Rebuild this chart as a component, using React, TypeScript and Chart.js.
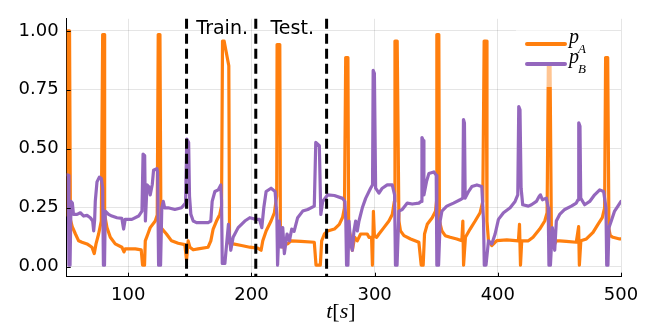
import React, { useEffect, useRef } from "react";
import { Chart, registerables } from "chart.js";

Chart.register(...registerables);

const tA = [50, 50.8, 52.3, 53.0, 54.5, 57.0, 59.7, 62.4, 66.5, 70.5, 72.4, 73.8, 75.9, 78.1, 79.2, 80.5, 80.8, 82.7, 85.4, 89.4, 94.8, 96.5, 97.5, 105.7, 110.5, 111.6, 113.2, 113.8, 115.9, 117.8, 121.9, 123.5, 124.3, 125.7, 126.5, 131, 135.1, 140.5, 145.9, 147.3, 148.6, 150, 152.7, 156.7, 164.8, 167, 168.9, 171.6, 174.3, 175.7, 176.5, 177.8, 181.6, 182.2, 185.1, 191.9, 198.6, 205.1, 207.8, 209.2, 211.9, 215.9, 218.6, 220.5, 220.8, 223.0, 223.5, 225.4, 227, 229.4, 232.1, 240.2, 251, 252.4, 255.9, 257, 259.2, 261.9, 267.3, 271.3, 274, 275.5, 276.5, 278.3, 278.9, 280.5, 281.9, 283.8, 285.9, 288.6, 294, 295.4, 297.5, 298.2, 299.0, 299.8, 301.6, 303.5, 307.5, 311.6, 314.3, 316.0, 316.5, 318.3, 319.7, 321, 323.8, 329.2, 335.9, 337.8, 339.4, 340.5, 342.7, 346.7, 349.4, 350.3, 350.5, 352.1, 352.6, 354.6, 357.3, 361.3, 366.7, 370.8, 371.6, 372.2, 373.7, 377.5, 381.6, 385.6, 387.8, 388.9, 390.5, 391.2, 392.4, 395.1, 399.2, 407.3, 416.7, 417.6, 418.4, 419.4, 424.8, 428.6, 434, 438.1, 440, 441, 442.4, 443.5, 444.8, 447.5, 450.2, 455.6, 463.7, 465.6, 466.2, 467.4, 471.9, 477.3, 481.3, 484.8, 486.7, 487.5, 489.2, 490.2, 491.3, 493.5, 498.9, 500];
const pA = [0.22, 1.0, 1.0, 0.2, 0.17, 0.14, 0.11, 0.104, 0.097, 0.083, 0.056, 0.097, 0.139, 0.194, 0.984, 0.984, 0.22, 0.166, 0.125, 0.097, 0.083, 0.063, 0.076, 0.076, 0.072, 0.007, 0.007, 0.11, 0.139, 0.166, 0.194, 0.22, 0.984, 0.984, 0.166, 0.139, 0.11, 0.1, 0.094, 0.028, 0.11, 0.083, 0.072, 0.076, 0.083, 0.11, 0.16, 0.194, 0.222, 0.257, 0.957, 0.957, 0.852, 0.1, 0.097, 0.09, 0.083, 0.079, 0.07, 0.11, 0.152, 0.194, 0.229, 0.3, 0.942, 0.942, 0.139, 0.083, 0.1, 0.097, 0.11, 0.108, 0.104, 0.007, 0.007, 0.11, 0.139, 0.152, 0.16, 0.18, 0.21, 0.25, 0.887, 0.887, 0.166, 0.125, 0.07, 0.125, 0.11, 0.139, 0.139, 0.125, 0.125, 0.007, 0.235, 0.13, 0.125, 0.139, 0.166, 0.194, 0.222, 0.277, 0.957, 0.957, 0.194, 0.152, 0.132, 0.118, 0.104, 0.007, 0.007, 0.139, 0.18, 0.208, 0.236, 0.28, 0.984, 0.984, 0.194, 0.152, 0.132, 0.125, 0.118, 0.11, 0.194, 0.007, 0.125, 0.16, 0.194, 0.229, 0.277, 0.957, 0.957, 0.194, 0.111, 0.09, 0.111, 0.114, 0.11, 0.18, 0.007, 0.11, 0.11, 0.125, 0.16, 0.194, 0.229, 0.85, 0.85, 0.139, 0.083, 0.11, 0.11, 0.108, 0.104, 0.17, 0.007, 0.11, 0.118, 0.146, 0.18, 0.208, 0.25, 0.887, 0.887, 0.16, 0.132, 0.125, 0.118, 0.118];

const tB = [50, 51.3, 51.8, 52.7, 53.5, 54.6, 55.5, 58.4, 61.1, 63.8, 66.5, 69.2, 71.1, 71.9, 72.7, 73.2, 74.6, 76.5, 78.1, 79.2, 79.8, 80.7, 81.3, 84, 86.7, 90.8, 94.8, 96.2, 97.5, 102.9, 108.4, 111.1, 112.0, 113.3, 113.9, 115.2, 116.5, 117.8, 119.5, 120.5, 123.2, 123.8, 124.6, 126.2, 127.2, 128.4, 129.5, 132.4, 137.8, 143.2, 146.5, 147.5, 149.0, 149.7, 150.8, 152.7, 155.4, 164.8, 167, 168.1, 170.3, 173, 175.1, 175.7, 176.3, 178.4, 181.3, 183.2, 185.1, 189.2, 194.6, 198.6, 203.8, 206.5, 208.4, 210, 211.9, 215.9, 219.2, 220.6, 221.2, 222.6, 224, 225.4, 226.7, 228.9, 230.8, 232.7, 234.6, 237.5, 241.6, 245.7, 251, 252.2, 255.1, 256.3, 257.8, 261.9, 267.3, 274, 275.8, 276.6, 277.2, 278.3, 279.2, 280.5, 281.9, 283.2, 284.6, 285.9, 287.3, 290, 292.7, 296.7, 298.3, 298.8, 299.8, 300.8, 303.5, 306.2, 310.2, 314.3, 316.2, 316.9, 318.2, 319.7, 322.4, 326.5, 330.5, 335.9, 337.8, 338.4, 339.5, 340.0, 342.1, 344, 348.1, 350, 350.5, 351.9, 353.2, 354.6, 358.6, 364, 369.4, 371.6, 372.1, 372.9, 373.5, 376.2, 378.9, 383, 387, 388.4, 389.0, 390.4, 392.4, 395.1, 397.8, 400.5, 404.6, 410, 414, 416.2, 417.0, 418.0, 418.9, 420.2, 424.8, 427.3, 431.3, 433.5, 434.6, 436.2, 439.4, 440.9, 441.5, 442.7, 444.3, 446.2, 447.5, 450.2, 454.3, 459.7, 463.7, 465.1, 465.7, 466.7, 467.3, 470.5, 474.6, 478.6, 482.7, 485.9, 487.8, 488.4, 489.4, 490.2, 492.1, 494.8, 497.5, 500];
const pB = [0.39, 0.388, 0.007, 0.007, 0.277, 0.27, 0.222, 0.222, 0.229, 0.215, 0.218, 0.208, 0.194, 0.152, 0.2, 0.277, 0.36, 0.38, 0.374, 0.333, 0.007, 0.007, 0.236, 0.222, 0.215, 0.208, 0.205, 0.16, 0.201, 0.201, 0.215, 0.236, 0.478, 0.471, 0.194, 0.347, 0.34, 0.305, 0.35, 0.409, 0.416, 0.402, 0.007, 0.007, 0.25, 0.277, 0.25, 0.25, 0.243, 0.25, 0.27, 0.541, 0.527, 0.3, 0.222, 0.194, 0.187, 0.187, 0.194, 0.277, 0.319, 0.326, 0.347, 0.28, 0.014, 0.014, 0.18, 0.07, 0.125, 0.166, 0.194, 0.208, 0.201, 0.201, 0.166, 0.25, 0.319, 0.333, 0.319, 0.222, 0.007, 0.194, 0.083, 0.166, 0.056, 0.139, 0.11, 0.16, 0.15, 0.208, 0.236, 0.243, 0.257, 0.527, 0.513, 0.222, 0.277, 0.305, 0.302, 0.29, 0.277, 0.194, 0.007, 0.007, 0.194, 0.097, 0.07, 0.152, 0.194, 0.152, 0.194, 0.25, 0.29, 0.333, 0.347, 0.832, 0.82, 0.333, 0.312, 0.333, 0.347, 0.347, 0.305, 0.007, 0.007, 0.236, 0.243, 0.27, 0.266, 0.27, 0.277, 0.548, 0.535, 0.305, 0.361, 0.395, 0.402, 0.388, 0.007, 0.007, 0.194, 0.236, 0.257, 0.27, 0.284, 0.291, 0.624, 0.61, 0.291, 0.319, 0.34, 0.347, 0.34, 0.194, 0.007, 0.007, 0.11, 0.097, 0.139, 0.201, 0.229, 0.25, 0.277, 0.305, 0.679, 0.665, 0.333, 0.263, 0.257, 0.263, 0.277, 0.298, 0.305, 0.284, 0.291, 0.25, 0.007, 0.007, 0.166, 0.07, 0.194, 0.222, 0.243, 0.257, 0.27, 0.284, 0.61, 0.595, 0.291, 0.263, 0.277, 0.305, 0.326, 0.319, 0.25, 0.007, 0.007, 0.166, 0.194, 0.236, 0.257, 0.277];

const xTicks = [100, 200, 300, 400, 500];
const yTicks = [0, 0.25, 0.5, 0.75, 1.0];
const phaseLines = [147.3, 203.5, 261.0];
const phaseLabels = ["Train.", "Test."];
const seriesNames = ["A", "B"];
const xTitle = ["t", "[", "s", "]"];

const ORANGE = "#ff7f0e";
const PURPLE = "#9467bd";
const TICK_FONT = "DejaVu Sans";

const overlay = {
  id: "overlay",
  afterDatasetsDraw(chart: any) {
    const { ctx, chartArea, scales } = chart;
    const xs = scales.x;
    const ys = scales.y;
    ctx.save();
    // dashed phase separators
    ctx.strokeStyle = "#000";
    ctx.lineWidth = 3;
    ctx.setLineDash([10, 5]);
    for (const t of phaseLines) {
      const x = xs.getPixelForValue(t);
      ctx.beginPath();
      ctx.moveTo(x, chartArea.top);
      ctx.lineTo(x, chartArea.bottom);
      ctx.stroke();
    }
    ctx.setLineDash([]);
    // phase labels
    ctx.fillStyle = "#000";
    ctx.font = `19px '${TICK_FONT}'`;
    ctx.textAlign = "center";
    ctx.textBaseline = "alphabetic";
    for (let i = 0; i < phaseLabels.length; i++) {
      const x = (xs.getPixelForValue(phaseLines[i]) + xs.getPixelForValue(phaseLines[i + 1])) / 2;
      ctx.fillText(phaseLabels[i], x + 1, 34);
    }
    // inward ticks
    ctx.lineWidth = 1;
    ctx.strokeStyle = "#000";
    for (const v of xTicks) {
      const x = Math.round(xs.getPixelForValue(v)) + 0.5;
      ctx.beginPath();
      ctx.moveTo(x, chartArea.bottom);
      ctx.lineTo(x, chartArea.bottom - 4);
      ctx.stroke();
    }
    for (const v of yTicks) {
      const y = Math.round(ys.getPixelForValue(v)) + 0.5;
      ctx.beginPath();
      ctx.moveTo(chartArea.left, y);
      ctx.lineTo(chartArea.left + 4, y);
      ctx.stroke();
    }
    // legend
    ctx.fillStyle = "rgba(255,255,255,0.55)";
    ctx.fillRect(516, 26, 84, 61);
    const colors = [ORANGE, PURPLE];
    const ly = [44, 64];
    ctx.lineCap = "round";
    for (let i = 0; i < 2; i++) {
      ctx.strokeStyle = colors[i];
      ctx.lineWidth = 4;
      ctx.beginPath();
      ctx.moveTo(527, ly[i]);
      ctx.lineTo(565, ly[i]);
      ctx.stroke();
      ctx.fillStyle = "#000";
      ctx.textAlign = "left";
      ctx.font = "italic 20px 'Liberation Serif'";
      ctx.fillText("p", 569, ly[i] - 1);
      const pw = ctx.measureText("p").width;
      ctx.font = "italic 13px 'Liberation Serif'";
      ctx.fillText(seriesNames[i], 569 + pw - 1, ly[i] + 9);
    }
    // x title
    const fonts = ["italic 22px 'Liberation Serif'", "22px 'Liberation Serif'", "italic 22px 'Liberation Serif'", "22px 'Liberation Serif'"];
    let total = 0;
    const widths: number[] = [];
    for (let i = 0; i < xTitle.length; i++) {
      ctx.font = fonts[i];
      const w = ctx.measureText(xTitle[i]).width;
      widths.push(w);
      total += w;
    }
    let cx = (chartArea.left + chartArea.right) / 2 - total / 2 - 3;
    ctx.fillStyle = "#000";
    ctx.textAlign = "left";
    for (let i = 0; i < xTitle.length; i++) {
      ctx.font = fonts[i];
      ctx.fillText(xTitle[i], cx, 318);
      cx += widths[i];
    }
    ctx.restore();
  },
};

export default function App() {
  const ref = useRef<HTMLCanvasElement>(null);
  useEffect(() => {
    document.body.style.margin = "0";
    const chart = new Chart(ref.current as HTMLCanvasElement, {
      type: "line",
      data: {
        datasets: [
          {
            label: "p_B",
            data: tB.map((t, i) => ({ x: t, y: pB[i] })),
            borderColor: PURPLE,
            borderWidth: 3.2,
            pointRadius: 0,
            tension: 0,
            borderJoinStyle: "round",
            borderCapStyle: "round",
            fill: false,
          },
          {
            label: "p_A",
            data: tA.map((t, i) => ({ x: t, y: pA[i] })),
            borderColor: ORANGE,
            borderWidth: 3.2,
            pointRadius: 0,
            tension: 0,
            borderJoinStyle: "round",
            borderCapStyle: "round",
            fill: false,
          },
        ],
      },
      options: {
        responsive: false,
        animation: false,
        devicePixelRatio: 1,
        layout: { padding: { top: 14, right: 26, bottom: 0, left: 0 } },
        plugins: { legend: { display: false }, tooltip: { enabled: false } },
        scales: {
          x: {
            type: "linear",
            min: 50,
            max: 500,
            afterBuildTicks: (s: any) => {
              s.ticks = xTicks.map((v) => ({ value: v }));
            },
            afterFit: (s: any) => {
              s.height = 48.3;
            },
            grid: { color: "rgba(0,0,0,0.1)", drawTicks: false },
            border: { color: "#000", width: 1 },
            ticks: {
              color: "#000",
              font: { family: TICK_FONT, size: 18 },
              padding: 8,
              maxRotation: 0,
              callback: (v: any) => String(v),
            },
          },
          y: {
            type: "linear",
            min: -0.042,
            max: 1.051,
            afterBuildTicks: (s: any) => {
              s.ticks = yTicks.map((v) => ({ value: v }));
            },
            afterFit: (s: any) => {
              s.width = 66.7;
            },
            grid: { color: "rgba(0,0,0,0.1)", drawTicks: false },
            border: { color: "#000", width: 1 },
            ticks: {
              color: "#000",
              font: { family: TICK_FONT, size: 18 },
              padding: 8,
              callback: (v: any) => Number(v).toFixed(2),
            },
          },
        },
      },
      plugins: [overlay],
    } as any);
    return () => chart.destroy();
  }, []);
  return (
    <div style={{ width: 647, height: 325, position: "relative" }}>
      <canvas ref={ref} width={647} height={325} style={{ display: "block" }} />
    </div>
  );
}
